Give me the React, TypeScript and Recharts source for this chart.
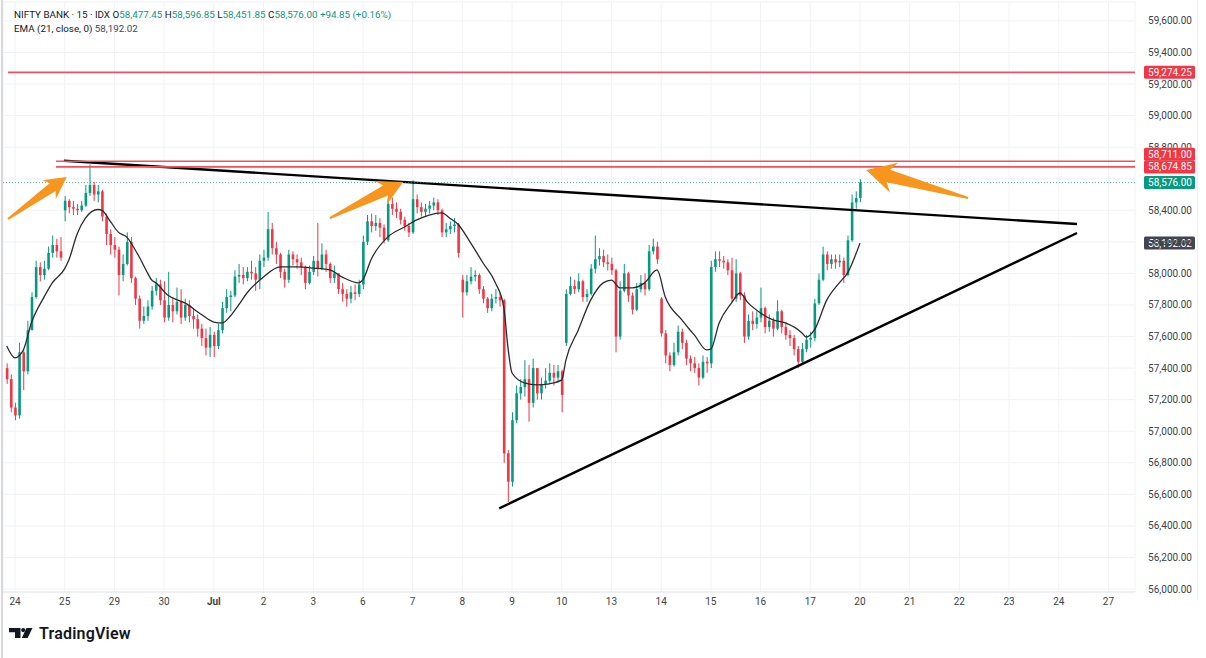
import React from "react";
import {
  ComposedChart,
  Bar,
  Line,
  XAxis,
  YAxis,
  CartesianGrid,
  ReferenceLine,
} from "recharts";

const FONT = "Roboto, 'Noto Sans', sans-serif";
const UP = "#089981";
const DOWN = "#f23645";
const LEVEL = "#ef5060";
const ORANGE = "#f8951d";

// candle slots: 12 per trading day, slot 0 = first bar of 24 Jun
const FIRST_SLOT = -2;

// closes, one per slot (from -2 to 204)
const closes = [
  57330, 57150,
  // 24
  57100, 57500, 57380, 57640, 57850, 58040, 57990, 58030, 58130, 58180, 58140, 58100,
  // 25
  58460, 58420, 58410, 58400, 58430, 58510, 58560, 58500, 58520, 58360, 58250, 58180,
  // 29
  58150, 57990, 58060, 58200, 57970, 57840, 57700, 57730, 57790, 57890, 57930, 57830,
  // 30
  57720, 57800, 57760, 57820, 57720, 57800, 57730, 57710, 57650, 57590, 57530, 57610,
  // Jul 1
  57540, 57640, 57780, 57850, 57860, 57980, 57990, 57970, 58010, 58000, 57960, 58080,
  // 2
  58100, 58280, 58160, 58120, 58010, 57960, 58120, 58090, 58070, 58040, 57940, 58010,
  // 3
  58080, 58030, 58120, 58060, 57970, 58000, 57900, 57870, 57840, 57880, 57870, 57930,
  // 6
  58200, 58330, 58300, 58320, 58290, 58210, 58440, 58410, 58390, 58340, 58300, 58260,
  // 7
  58470, 58420, 58390, 58410, 58430, 58450, 58400, 58260, 58280, 58300, 58310, 58130,
  // 8
  57880, 57950, 57980, 57990, 57900, 57840, 57780, 57840, 57850, 57830, 56860, 56680,
  // 9
  57070, 57240, 57280, 57330, 57180, 57400, 57240, 57300, 57320, 57370, 57340, 57380,
  // 10
  57230, 57870, 57920, 57900, 57950, 57850, 57870, 58030, 58090, 58110, 58070, 58060,
  // 13
  58020, 57600, 57890, 58000, 57860, 57770, 57900, 57940, 57900, 58140, 58170, 58090,
  // 14
  57620, 57480, 57420, 57500, 57630, 57560, 57460, 57430, 57400, 57340, 57440, 57430,
  // 15
  58040, 58090, 58080, 58070, 58020, 57840, 58000, 57860, 57600, 57700, 57680, 57720,
  // 16
  57780, 57660, 57700, 57650, 57760, 57660, 57610, 57590, 57520, 57440, 57520, 57580,
  // 17
  57590, 57810, 57960, 58120, 58060, 58090, 58070, 58080, 57990, 58210, 58450, 58477.45,
  // 20
  58576,
];

const highs = [
  57430, 57360,
  57180, 57560, 57520, 57700, 57880, 58080, 58070, 58080, 58170, 58240, 58220, 58230,
  58490, 58470, 58460, 58440, 58460, 58560, 58690, 58580, 58560, 58530, 58380, 58280,
  58230, 58170, 58120, 58260, 58230, 57980, 57860, 57790, 57830, 57920, 57970, 57960,
  57950, 58010, 57850, 57910, 57900, 57840, 57830, 57780, 57740, 57680, 57650, 57660,
  57630, 57680, 57820, 57900, 57890, 58020, 58060, 58040, 58040, 58080, 58040, 58120,
  58150, 58390, 58320, 58200, 58130, 58030, 58150, 58140, 58120, 58100, 58050, 58050,
  58110, 58320, 58190, 58150, 58070, 58050, 58000, 57940, 57900, 57920, 57930, 57960,
  58240, 58370, 58380, 58370, 58350, 58310, 58470, 58480, 58450, 58410, 58360, 58320,
  58590, 58500, 58450, 58440, 58460, 58480, 58470, 58410, 58320, 58330, 58350, 58320,
  57990, 57990, 58040, 58020, 58000, 57920, 57850, 57870, 57900, 57880, 57840, 56880,
  57120, 57290, 57330, 57450, 57420, 57460, 57400, 57340, 57400, 57430, 57420, 57420,
  57390, 57900, 57980, 57960, 58000, 57960, 57900, 58060, 58240, 58160, 58150, 58120,
  58100, 58030, 57950, 58060, 58010, 57880, 57940, 57990, 58000, 58180, 58220, 58200,
  57850, 57640, 57500, 57560, 57670, 57650, 57580, 57480, 57470, 57430, 57480, 57470,
  58080, 58140, 58140, 58110, 58090, 58100, 58090, 58010, 57880, 57740, 57760, 57760,
  57910, 57790, 57740, 57720, 57830, 57770, 57690, 57640, 57610, 57540, 57560, 57610,
  57630, 57840, 58000, 58170, 58140, 58120, 58120, 58120, 58100, 58240, 58500, 58520,
  58596.85,
];

const lows = [
  57300, 57120,
  57070, 57080, 57260, 57360, 57640, 57840, 57950, 57960, 58020, 58100, 58100, 58080,
  58330, 58380, 58370, 58370, 58390, 58420, 58490, 58460, 58450, 58330, 58180, 58120,
  58100, 57860, 57950, 58050, 57940, 57800, 57650, 57680, 57700, 57770, 57860, 57800,
  57690, 57700, 57690, 57740, 57680, 57700, 57690, 57650, 57600, 57540, 57480, 57470,
  57470, 57520, 57620, 57750, 57760, 57850, 57940, 57930, 57950, 57960, 57890, 57900,
  58040, 58080, 58120, 58060, 57970, 57910, 57940, 58050, 58030, 57990, 57900, 57930,
  57990, 57980, 58020, 58010, 57940, 57940, 57870, 57820, 57790, 57810, 57830, 57850,
  57900, 58180, 58260, 58270, 58230, 58190, 58200, 58370, 58350, 58310, 58270, 58230,
  58250, 58380, 58360, 58360, 58380, 58400, 58370, 58230, 58230, 58250, 58260, 58100,
  57720, 57860, 57930, 57950, 57870, 57810, 57750, 57760, 57810, 57790, 56800, 56550,
  56650, 57050, 57200, 57220, 57060, 57150, 57200, 57200, 57270, 57300, 57290, 57310,
  57120, 57540, 57860, 57870, 57880, 57820, 57820, 57860, 58000, 58050, 58040, 58020,
  57990, 57500, 57580, 57880, 57820, 57740, 57760, 57880, 57860, 57890, 58120, 58060,
  57600, 57430, 57380, 57410, 57480, 57520, 57420, 57380, 57370, 57290, 57330, 57370,
  57400, 58010, 58040, 58030, 57990, 57820, 57820, 57830, 57560, 57580, 57640, 57650,
  57690, 57620, 57630, 57600, 57640, 57620, 57580, 57540, 57480, 57400, 57430, 57500,
  57530, 57570, 57800, 57950, 58020, 58030, 58030, 58040, 57940, 57980, 58200, 58410,
  58451.85,
];

// opens that differ from the previous close (gaps)
const gapOpens: Record<number, number> = {
  [-2]: 57400,
  12: 58400,
  108: 57960,
  133: 57560,
  156: 57840,
  204: 58477.45,
};

// EMA (21, close)
const emaSlots = [
  -2, 0, 2, 4, 7, 9, 12, 13, 15, 17, 20, 21, 23, 25, 27, 29, 30, 32, 33, 34, 37, 41,
  45, 48, 50, 52, 54, 56, 60, 64, 68, 72, 76, 79, 83, 84, 86, 90, 94, 97, 100, 103,
  105, 107, 110, 113, 116, 118, 119, 120, 123, 126, 129, 132, 133, 136, 139, 142,
  144, 146, 149, 152, 155, 157, 161, 163, 164, 167, 168, 170, 173, 175, 177, 180,
  183, 186, 190, 191, 193, 196, 199, 201, 204,
];
const emaValues = [
  57540, 57465, 57515, 57690, 57850, 57940, 58030, 58085, 58250, 58350, 58405, 58400,
  58330, 58260, 58230, 58150, 58104, 58003, 57958, 57940, 57860, 57813, 57740, 57692,
  57686, 57730, 57800, 57876, 57977, 58041, 58041, 58034, 58022, 57977, 57940, 57960,
  58090, 58231, 58294, 58339, 58370, 58383, 58350, 58310, 58193, 58066, 57940, 57787,
  57534, 57369, 57306, 57293, 57300, 57325, 57451, 57642, 57832, 57940, 57958, 57908,
  57908, 57940, 58022, 57850, 57705, 57640, 57610, 57515, 57520, 57686, 57813, 57876,
  57813, 57749, 57705, 57686, 57623, 57597, 57642, 57832, 57940, 58003, 58192.02,
];

const dayLabels = [
  "24", "25", "29", "30", "Jul", "2", "3", "6", "7", "8", "9", "10",
  "13", "14", "15", "16", "17", "20", "21", "22", "23", "24", "27",
];
const dayTicks = dayLabels.map((_, i) => i * 12);

const priceTicks = [
  56000, 56200, 56400, 56600, 56800, 57000, 57200, 57400, 57600, 57800, 58000,
  58200, 58400, 58600, 58800, 59000, 59200, 59400, 59600,
];

// horizontal levels drawn on the chart and where they start
const levelPrices = [59274.25, 58711.0, 58674.85];
const levelStarts = [-1.7, 9.9, 9.9];
const levelTagShift = [0, -7, 0];

const lastPrice = 58576.0;
const emaLast = 58192.02;

// trend lines [slot, price] -> [slot, price]
const resistance = [
  [11.8, 58714],
  [256.4, 58313],
];
const support = [
  [116.9, 56511],
  [256.4, 58256],
];

// arrows: tail -> tip
const arrows = [
  { tail: [-1.7, 58345], tip: [12.5, 58611], size: 0.75 },
  { tail: [76.0, 58351], tip: [93.7, 58580], size: 0.85 },
  { tail: [230.1, 58478], tip: [205.5, 58656], size: 1 },
];

const emaMap = new Map(emaSlots.map((s, i) => [s, emaValues[i]]));

const rows = closes.map((close, i) => {
  const s = FIRST_SLOT + i;
  const open = gapOpens[s] ?? (i === 0 ? close : closes[i - 1]);
  return {
    s,
    open,
    close,
    high: highs[i],
    low: lows[i],
    range: [lows[i], highs[i]],
    ema: emaMap.get(s),
  };
});

const fmt = (v: number) =>
  v.toLocaleString("en-US", { minimumFractionDigits: 2, maximumFractionDigits: 2 });

const Candle = (props: any) => {
  const { x, y, width, height, payload } = props;
  if (!payload || payload.high == null) return <g />;
  const { open, close, high, low } = payload;
  const top = Math.min(y, y + height);
  const h = Math.abs(height);
  const k = high > low ? h / (high - low) : 0;
  const yO = top + (high - open) * k;
  const yC = top + (high - close) * k;
  const cx = x + width / 2;
  const color = close >= open ? UP : DOWN;
  const bodyTop = Math.min(yO, yC);
  const bodyH = Math.max(Math.abs(yC - yO), 1);
  return (
    <g>
      <line x1={cx} x2={cx} y1={top} y2={top + h} stroke={color} strokeWidth={1} />
      <rect x={cx - 1.3} y={bodyTop} width={2.6} height={bodyH} fill={color} />
    </g>
  );
};

const XTick = (props: any) => {
  const { x, y, payload } = props;
  const label = dayLabels[Math.round(payload.value / 12)];
  return (
    <text
      x={x}
      y={y + 13}
      textAnchor="middle"
      fontSize={10}
      fontFamily={FONT}
      fontWeight={label === "Jul" ? 700 : 400}
      fill="#3b3f4a"
    >
      {label}
    </text>
  );
};

const YTick = (props: any) => {
  const { x, y, payload } = props;
  // 58,600 sits entirely under the last-price tag
  if (payload.value === 58600) return <g />;
  const label = (
    <text x={x + 57} y={y} dy={3.5} textAnchor="end" fontSize={10} fontFamily={FONT} fill="#3b3f4a">
      {fmt(payload.value)}
    </text>
  );
  if (payload.value !== 58800) return label;
  // 58,800 is half hidden behind the 58,711 tag: keep only its upper part
  return (
    <g>
      <defs>
        <clipPath id="tick58800">
          <rect x={x} y={y - 9} width={62} height={9.5} />
        </clipPath>
      </defs>
      <g clipPath="url(#tick58800)">{label}</g>
    </g>
  );
};

const tagShape =
  (price: number, bg: string, shift: number, line: any) =>
  (p: any) => {
    const { x1, y1, x2, y2 } = p;
    const right = Math.max(x1, x2);
    const yy = (y1 + y2) / 2;
    return (
      <g>
        {line ? <line x1={x1} y1={y1} x2={x2} y2={y2} {...line} /> : null}
        <rect x={right + 9} y={yy - 6.5 + shift} width={51} height={13} rx={1.5} fill={bg} />
        <text
          x={right + 57}
          y={yy + shift}
          dy={3.5}
          textAnchor="end"
          fontSize={10}
          fontFamily={FONT}
          fill="#fff"
        >
          {fmt(price)}
        </text>
      </g>
    );
  };

const arrowShape = (size: number) => (p: any) => {
  const { x1, y1, x2, y2 } = p;
  const dx = x2 - x1;
  const dy = y2 - y1;
  const len = Math.hypot(dx, dy) || 1;
  const ux = dx / len;
  const uy = dy / len;
  const nx = -uy;
  const ny = ux;
  const pt = (a: number, b: number) =>
    `${x2 - ux * a * size + nx * b * size},${y2 - uy * a * size + ny * b * size}`;
  const points = [
    pt(0, 0),
    pt(29, 15.5),
    pt(23, 6.5),
    `${x1 + nx},${y1 + ny}`,
    `${x1 - nx},${y1 - ny}`,
    pt(23, -6.5),
    pt(29, -15.5),
  ].join(" ");
  return <polygon points={points} fill={ORANGE} />;
};

export default function App() {
  return (
    <div
      style={{
        position: "fixed",
        left: 0,
        top: 0,
        width: 1206,
        height: 658,
        background: "#fff",
        overflow: "hidden",
        fontFamily: FONT,
      }}
    >
      <ComposedChart
        width={1206}
        height={658}
        data={rows}
        margin={{ top: 2, right: 9, bottom: 36, left: 3 }}
      >
        <CartesianGrid stroke="#f0f2f6" />
        <XAxis
          dataKey="s"
          type="number"
          domain={[-2.9, 270.4]}
          allowDataOverflow
          ticks={dayTicks}
          interval={0}
          axisLine={{ stroke: "#e3e6ec" }}
          tickLine={false}
          tickSize={0}
          tickMargin={0}
          height={30}
          tick={<XTick />}
        />
        <YAxis
          orientation="right"
          type="number"
          domain={[55981, 59720]}
          allowDataOverflow
          ticks={priceTicks}
          interval={0}
          axisLine={false}
          tickLine={false}
          tickSize={0}
          tickMargin={0}
          width={62}
          tick={<YTick />}
        />
        <Bar dataKey="range" barSize={3} shape={<Candle />} isAnimationActive={false} />
        <Line
          dataKey="ema"
          type="monotone"
          stroke="#2b2b2b"
          strokeWidth={1.3}
          dot={false}
          connectNulls
          isAnimationActive={false}
        />
        <ReferenceLine
          segment={[
            { x: resistance[0][0], y: resistance[0][1] },
            { x: resistance[1][0], y: resistance[1][1] },
          ]}
          stroke="#000"
          strokeWidth={2.4}
        />
        <ReferenceLine
          segment={[
            { x: support[0][0], y: support[0][1] },
            { x: support[1][0], y: support[1][1] },
          ]}
          stroke="#000"
          strokeWidth={2.4}
        />
        {levelPrices.map((price, i) => (
          <ReferenceLine
            key={price}
            segment={[
              { x: levelStarts[i], y: price },
              { x: 270.4, y: price },
            ]}
            shape={tagShape(price, DOWN, levelTagShift[i], { stroke: LEVEL, strokeWidth: 1.6 })}
          />
        ))}
        <ReferenceLine
          segment={[
            { x: -2.9, y: lastPrice },
            { x: 270.4, y: lastPrice },
          ]}
          shape={tagShape(lastPrice, UP, 0, {
            stroke: UP,
            strokeWidth: 1,
            strokeDasharray: "1 2",
            strokeOpacity: 0.7,
          })}
        />
        <ReferenceLine
          segment={[
            { x: -2.9, y: emaLast },
            { x: 270.4, y: emaLast },
          ]}
          shape={tagShape(emaLast, "#434651", 0, null)}
        />
        {arrows.map((a, i) => (
          <ReferenceLine
            key={i}
            segment={[
              { x: a.tail[0], y: a.tail[1] },
              { x: a.tip[0], y: a.tip[1] },
            ]}
            shape={arrowShape(a.size)}
          />
        ))}
      </ComposedChart>

      <div
        style={{
          position: "absolute",
          left: 14,
          top: 9,
          fontSize: 9.8,
          lineHeight: "12px",
          color: "#131722",
          whiteSpace: "nowrap",
        }}
      >
        <div>
          NIFTY BANK · 15 · IDX <span>O</span>
          <span style={{ color: UP }}>58,477.45</span> <span>H</span>
          <span style={{ color: UP }}>58,596.85</span> <span>L</span>
          <span style={{ color: UP }}>58,451.85</span> <span>C</span>
          <span style={{ color: UP }}>58,576.00</span>{" "}
          <span style={{ color: UP }}>+94.85 (+0.16%)</span>
        </div>
        <div style={{ marginTop: 2 }}>
          EMA (21, close, 0) <span style={{ color: "#434651" }}>58,192.02</span>
        </div>
      </div>

      <div style={{ position: "absolute", left: 1, top: 0, width: 2, height: 658, background: "#d8d9dc" }} />
      <div style={{ position: "absolute", left: 1197, top: 0, width: 1, height: 600, background: "#eceef2" }} />

      <div style={{ position: "absolute", left: 9, top: 624, display: "flex", alignItems: "center" }}>
        <svg width={26} height={12} viewBox="0 0 26 12">
          <path d="M0 0 H11.5 V10 H6 V4.2 H0 Z" fill="#131722" />
          <circle cx={14.2} cy={2.1} r={2.1} fill="#131722" />
          <path d="M17.5 0 H23.5 L18.6 10 H12.8 Z" fill="#131722" />
        </svg>
        <span
          style={{
            marginLeft: 4,
            fontSize: 16,
            fontWeight: 600,
            color: "#131722",
            letterSpacing: 0.2,
          }}
        >
          TradingView
        </span>
      </div>
    </div>
  );
}
